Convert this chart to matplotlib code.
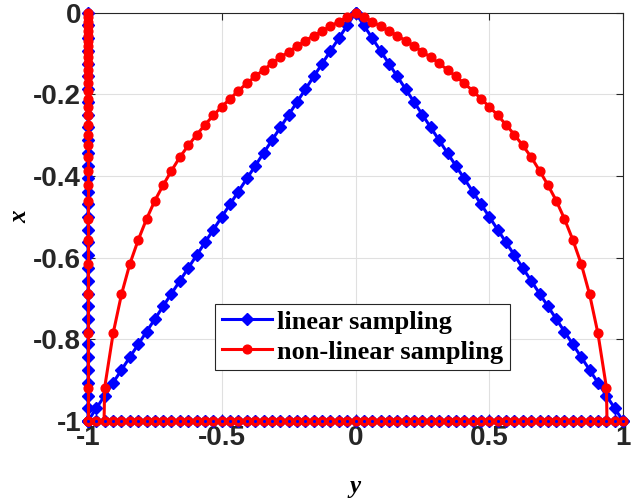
import matplotlib
matplotlib.use("Agg")
import matplotlib.pyplot as plt
from matplotlib.lines import Line2D

# ---- data ----
# uniform sampling positions along y (step 1/32)
grid_y = [-1.0, -0.969, -0.938, -0.906, -0.875, -0.844, -0.812, -0.781, -0.75,
          -0.719, -0.688, -0.656, -0.625, -0.594, -0.562, -0.531, -0.5,
          -0.469, -0.438, -0.406, -0.375, -0.344, -0.312, -0.281, -0.25,
          -0.219, -0.188, -0.156, -0.125, -0.094, -0.062, -0.031, 0.0,
          0.031, 0.062, 0.094, 0.125, 0.156, 0.188, 0.219, 0.25,
          0.281, 0.312, 0.344, 0.375, 0.406, 0.438, 0.469, 0.5,
          0.531, 0.562, 0.594, 0.625, 0.656, 0.688, 0.719, 0.75,
          0.781, 0.812, 0.844, 0.875, 0.906, 0.938, 0.969, 1.0]

# linear sampling: depth of the diagonal at |y| = 0, 1/32, ..., 1
lin_depth = [0.0, 0.031, 0.062, 0.094, 0.125, 0.156, 0.188, 0.219, 0.25,
             0.281, 0.312, 0.344, 0.375, 0.406, 0.438, 0.469, 0.5,
             0.531, 0.562, 0.594, 0.625, 0.656, 0.688, 0.719, 0.75,
             0.781, 0.812, 0.844, 0.875, 0.906, 0.938, 0.969, 1.0]

# non-linear sampling: depth of the curve at |y| = 0, 1/32, ..., 30/32
nonlin_depth = [0.0, 0.010, 0.022, 0.033, 0.045, 0.056, 0.069, 0.082, 0.096,
                0.109, 0.124, 0.140, 0.156, 0.173, 0.191, 0.211, 0.230,
                0.251, 0.274, 0.299, 0.325, 0.353, 0.387, 0.422, 0.460,
                0.505, 0.556, 0.616, 0.690, 0.785, 0.919]
nonlin_end_y = 0.94   # where the red curve meets x = -1

legend_labels = ["linear sampling", "non-linear sampling"]
xticks = [-1, -0.5, 0, 0.5, 1]
xticklabels = ["-1", "-0.5", "0", "0.5", "1"]
yticks = [-1, -0.8, -0.6, -0.4, -0.2, 0]
yticklabels = ["-1", "-0.8", "-0.6", "-0.4", "-0.2", "0"]

# ---- build polylines from the data ----
n_lin = len(lin_depth)
pos_y = grid_y[n_lin - 1:]            # 0 .. 1
neg_y = grid_y[:n_lin]                # -1 .. 0

# blue: left edge (top->bottom), bottom edge, right diagonal up, left diagonal down
blue_yy = [-1.0] * n_lin + grid_y + pos_y[::-1] + neg_y[::-1]
blue_xx = [-d for d in lin_depth] + [-1.0] * len(grid_y) \
          + [-d for d in lin_depth[::-1]] + [-d for d in lin_depth]

# red curve
n_nl = len(nonlin_depth)
curve_y = [-nonlin_end_y] + neg_y[-n_nl:] + pos_y[1:n_nl] + [nonlin_end_y]
curve_x = [-1.0] + [-d for d in nonlin_depth[::-1]] + [-d for d in nonlin_depth[1:]] + [-1.0]
# red edges
red_edge_y = [-1.0] * (n_nl + 1) + grid_y
red_edge_x = [-d for d in nonlin_depth] + [-1.0] + [-1.0] * len(grid_y)

# ---- figure ----
fig = plt.figure(figsize=(6.31, 5.04), dpi=100)
ax = fig.add_axes([0.1395, 0.1647, 0.8479, 0.8101])

blue = (0, 0, 1)
red = (1, 0, 0)
lw = 2.2
d_ms = 6.5
o_ms = 6.3

ax.plot(blue_yy, blue_xx, color=blue, lw=lw, marker='D', ms=d_ms,
        mfc=blue, mec=blue, mew=1.0, clip_on=False, zorder=3)
ax.plot(red_edge_y, red_edge_x, color=red, lw=lw, marker='o', ms=o_ms,
        mfc=red, mec=red, mew=1.0, clip_on=False, zorder=4)
ax.plot(curve_y, curve_x, color=red, lw=lw, marker='o', ms=o_ms,
        mfc=red, mec=red, mew=1.0, clip_on=False, zorder=4,
        markevery=list(range(1, len(curve_y) - 1)))
ax.plot(grid_y, [-1.0] * len(grid_y), linestyle='none', marker='o', ms=2.2,
        mfc=blue, mec=blue, mew=0, clip_on=False, zorder=5)

ax.set_xlim(-1, 1)
ax.set_ylim(-1, 0)

ax.set_xticks(xticks)
ax.set_xticklabels(xticklabels)
ax.set_yticks(yticks)
ax.set_yticklabels(yticklabels)

for lab in ax.get_xticklabels() + ax.get_yticklabels():
    lab.set_fontfamily('Liberation Sans')
    lab.set_fontweight('bold')
    lab.set_fontsize(20)
    lab.set_color((0.15, 0.15, 0.15))

ax.tick_params(axis='both', direction='in', length=5, width=0.8,
               colors=(0.15, 0.15, 0.15), top=True, right=True)
ax.tick_params(axis='x', pad=3)
ax.tick_params(axis='y', pad=5)

for s in ax.spines.values():
    s.set_color((0.15, 0.15, 0.15))
    s.set_linewidth(0.8)

ax.grid(True, color=(0.88, 0.88, 0.88), linewidth=0.8)
ax.set_axisbelow(True)

ax.set_xlabel('y', family='Liberation Serif', weight='bold', style='italic',
              fontsize=18, labelpad=17)
ax.set_ylabel('x', family='Liberation Serif', weight='bold', style='italic',
              fontsize=18, labelpad=1)

handles = [
    Line2D([], [], color=blue, lw=lw, marker='D', ms=d_ms, mfc=blue, mec=blue),
    Line2D([], [], color=red, lw=lw, marker='o', ms=o_ms, mfc=red, mec=red),
]
leg = ax.legend(handles, legend_labels, loc='center', bbox_to_anchor=(0.513, 0.206),
                prop=dict(family='Liberation Serif', weight='bold', size=19),
                frameon=True, fancybox=False, framealpha=1, edgecolor=(0.15, 0.15, 0.15),
                borderpad=0.25, handlelength=1.9, handletextpad=0.2, labelspacing=0.25,
                borderaxespad=0)
leg.get_frame().set_linewidth(0.8)

fig.savefig('out.png', dpi=100)
